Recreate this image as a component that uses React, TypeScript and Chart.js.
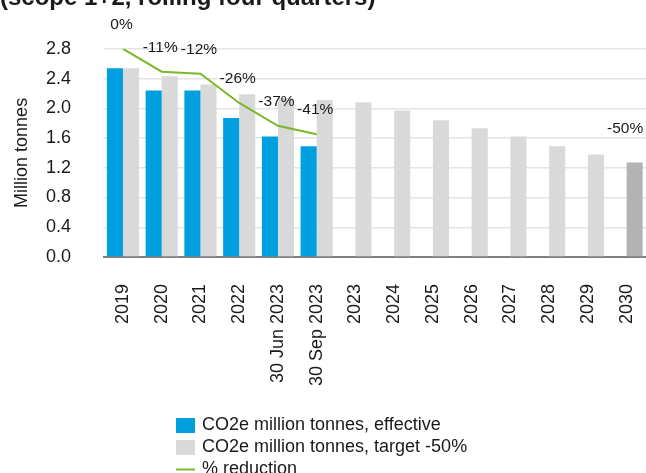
import React, { useEffect, useRef } from 'react';
import { Chart, registerables } from 'chart.js';

Chart.register(...registerables);

// ---- data ----
const categories = [
  '2019', '2020', '2021', '2022', '30 Jun 2023', '30 Sep 2023',
  '2023', '2024', '2025', '2026', '2027', '2028', '2029', '2030',
];
const effective = [2.54, 2.24, 2.24, 1.87, 1.62, 1.49, null, null, null, null, null, null, null, null];
const target = [2.54, 2.43, 2.32, 2.19, 2.14, 2.11, 2.08, 1.97, 1.84, 1.73, 1.62, 1.49, 1.38, 1.27];
const reduction = [0, -11, -12, -26, -37, -41, null, null, null, null, null, null, null, -50];
const seriesLabels = [
  'CO2e million tonnes, effective',
  'CO2e million tonnes, target -50%',
  '% reduction',
];
const titleText = '(scope 1+2, rolling four quarters)';
const yTitle = 'Million tonnes';

// ---- styles ----
const FONT = "'Liberation Sans', Arial, sans-serif";
const BLUE = '#009fe0';
const GREY = '#d9d9d9';
const GREY_DARK = '#b3b3b3';
const GREEN = '#7ab929';
const TEXT = '#1a1a1a';
const SHIFT = 16.5; // canvas is shifted up so the title is cropped like the reference
const W = 646;
const H = 473 + SHIFT;

const pctLabelPlugin = {
  id: 'pctLabels',
  afterDatasetsDraw(chart: any) {
    const meta = chart.getDatasetMeta(2);
    const ctx = chart.ctx;
    ctx.save();
    ctx.font = `15.5px ${FONT}`;
    ctx.fillStyle = TEXT;
    ctx.textAlign = 'center';
    ctx.textBaseline = 'middle';
    meta.data.forEach((pt: any, i: number) => {
      const v = reduction[i];
      if (v === null || v === undefined) return;
      ctx.fillText(`${v}%`, pt.x - 1.5, pt.y - 24);
    });
    ctx.restore();
  },
};

const legendPlugin = {
  id: 'customLegend',
  afterDraw(chart: any) {
    const ctx = chart.ctx;
    const rowY = [425, 447, 469].map((y) => y + SHIFT);
    const boxX = 176;
    const textX = 202;
    ctx.save();
    ctx.font = `18px ${FONT}`;
    ctx.textAlign = 'left';
    ctx.textBaseline = 'middle';
    ctx.fillStyle = BLUE;
    ctx.fillRect(boxX, rowY[0] - 7.5, 19, 15);
    ctx.fillStyle = GREY;
    ctx.fillRect(boxX, rowY[1] - 7.5, 19, 15);
    ctx.strokeStyle = GREEN;
    ctx.lineWidth = 2;
    ctx.beginPath();
    ctx.moveTo(boxX, rowY[2]);
    ctx.lineTo(boxX + 19, rowY[2]);
    ctx.stroke();
    ctx.fillStyle = TEXT;
    seriesLabels.forEach((t, i) => ctx.fillText(t, textX, rowY[i]));
    ctx.restore();
  },
};

export default function App() {
  const ref = useRef<HTMLCanvasElement | null>(null);

  useEffect(() => {
    if (!ref.current) return;
    const chart = new Chart(ref.current, {
      type: 'bar',
      data: {
        labels: categories,
        datasets: [
          {
            type: 'bar',
            label: seriesLabels[0],
            data: effective,
            backgroundColor: BLUE,
            barPercentage: 1.0,
            categoryPercentage: 0.83,
            order: 1,
            yAxisID: 'y',
          },
          {
            type: 'bar',
            label: seriesLabels[1],
            data: target,
            backgroundColor: target.map((_, i) => (i === target.length - 1 ? GREY_DARK : GREY)),
            barPercentage: 1.0,
            categoryPercentage: 0.83,
            order: 1,
            yAxisID: 'y',
          },
          {
            type: 'line',
            label: seriesLabels[2],
            data: reduction,
            borderColor: GREEN,
            backgroundColor: GREEN,
            borderWidth: 2,
            pointRadius: 0,
            pointHoverRadius: 0,
            tension: 0,
            spanGaps: false,
            order: 0,
            yAxisID: 'y2',
          },
        ] as any,
      },
      options: {
        responsive: false,
        animation: false,
        layout: { padding: { left: 0, right: 0, top: 0, bottom: 73 } },
        plugins: {
          legend: { display: false },
          tooltip: { enabled: false },
          title: {
            display: true,
            text: titleText,
            align: 'start',
            color: TEXT,
            font: { family: FONT, size: 24, weight: 'bold' },
            padding: { top: 0, bottom: 36 },
          },
        },
        scales: {
          x: {
            offset: true,
            grid: { display: false, drawTicks: false },
            border: { display: true, color: '#7f7f7f', width: 2 },
            ticks: {
              autoSkip: false,
              minRotation: 90,
              maxRotation: 90,
              padding: 27,
              color: TEXT,
              font: { family: FONT, size: 18 },
            },
            afterFit: (scale: any) => {
              scale.height = 143;
              scale.paddingLeft = 0;
              scale.paddingRight = 0;
            },
          },
          y: {
            min: 0,
            max: 2.8,
            ticks: {
              stepSize: 0.4,
              padding: 32.6,
              color: TEXT,
              font: { family: FONT, size: 18 },
              callback: (v: any) => Number(v).toFixed(1),
            },
            grid: { color: '#e4e4e4', lineWidth: 1.5, drawTicks: false },
            border: { display: false },
            title: {
              display: true,
              text: yTitle,
              color: TEXT,
              font: { family: FONT, size: 18 },
              padding: { top: 11.5, bottom: 0 },
            },
            afterFit: (scale: any) => {
              scale.width = 103.6;
              scale.paddingTop = 0;
              scale.paddingBottom = 0;
            },
          },
          y2: {
            display: false,
            min: -100,
            max: 0,
          },
        },
      } as any,
      plugins: [pctLabelPlugin, legendPlugin],
    });
    return () => chart.destroy();
  }, []);

  return (
    <div style={{ position: 'absolute', left: 0, top: -SHIFT, width: W, height: H, background: '#fff' }}>
      <canvas ref={ref} width={W} height={H} style={{ display: 'block' }} />
    </div>
  );
}
